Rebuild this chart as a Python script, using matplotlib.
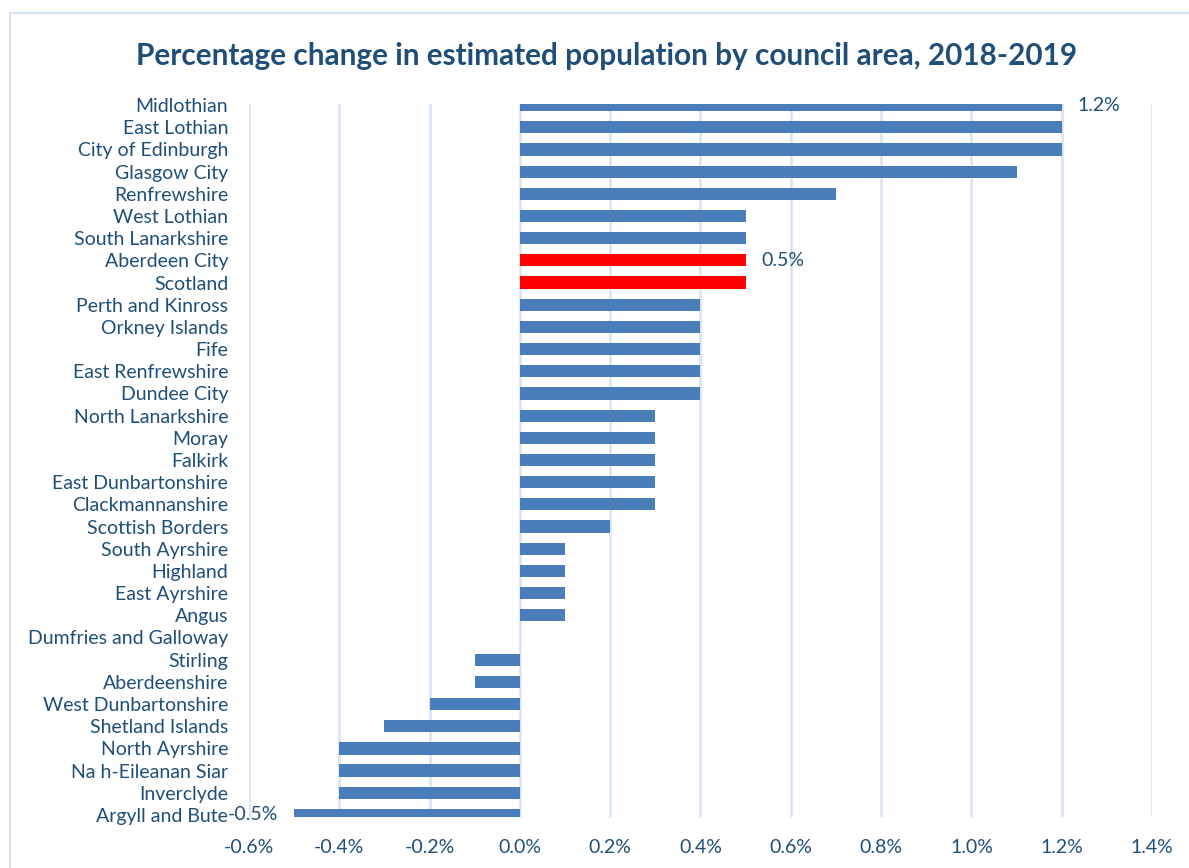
import matplotlib.pyplot as plt
from matplotlib.patches import Rectangle

areas = ["Midlothian", "East Lothian", "City of Edinburgh", "Glasgow City", "Renfrewshire",
         "West Lothian", "South Lanarkshire", "Aberdeen City", "Scotland", "Perth and Kinross",
         "Orkney Islands", "Fife", "East Renfrewshire", "Dundee City", "North Lanarkshire",
         "Moray", "Falkirk", "East Dunbartonshire", "Clackmannanshire", "Scottish Borders",
         "South Ayrshire", "Highland", "East Ayrshire", "Angus", "Dumfries and Galloway",
         "Stirling", "Aberdeenshire", "West Dunbartonshire", "Shetland Islands", "North Ayrshire",
         "Na h-Eileanan Siar", "Inverclyde", "Argyll and Bute"]
change = [1.2, 1.2, 1.2, 1.1, 0.7,
          0.5, 0.5, 0.5, 0.5, 0.4,
          0.4, 0.4, 0.4, 0.4, 0.3,
          0.3, 0.3, 0.3, 0.3, 0.2,
          0.1, 0.1, 0.1, 0.1, 0.0,
          -0.1, -0.1, -0.2, -0.3, -0.4,
          -0.4, -0.4, -0.5]
highlight = ["Aberdeen City", "Scotland"]
labelled = {"Midlothian": "1.2%", "Aberdeen City": "0.5%", "Argyll and Bute": "-0.5%"}
xticks = [-0.6, -0.4, -0.2, 0.0, 0.2, 0.4, 0.6, 0.8, 1.0, 1.2, 1.4]

navy = "#1F4E79"
blue = "#4A7EBB"
grid = "#D6E3F4"

plt.rcParams['font.family'] = ['Lato', 'DejaVu Sans']

fig = plt.figure(figsize=(11.89, 8.68), dpi=100)
ax = fig.add_axes([0.2094, 0.0588, 0.7595, 0.8214])

# outer frame of the chart (cut at right/bottom)
fig.patches.append(Rectangle((10 / 1189, -0.1), 1.2, 1 - 13 / 868 + 0.1,
                             transform=fig.transFigure, fill=False,
                             edgecolor=grid, linewidth=1.5))
fig.text(0.004, 1.003, "g", fontsize=20, color="black", va="bottom", ha="left")

ypos = list(range(len(areas)))
colors = ["#FF0000" if a in highlight else blue for a in areas]
ax.barh(ypos, change, height=0.55, color=colors, zorder=3)

for i, (a, v) in enumerate(zip(areas, change)):
    if a in labelled:
        if v >= 0:
            ax.text(v + 0.035, i, labelled[a], va="center", ha="left",
                    fontsize=14, color=navy, zorder=4)
        else:
            ax.text(v - 0.035, i, labelled[a], va="center", ha="right",
                    fontsize=14, color=navy, zorder=4)

ax.set_xlim(-0.6, 1.4)
ax.set_ylim(32.09, -0.05)
ax.set_xticks(xticks)
ax.set_xticklabels([f"{t:.1f}%" for t in xticks])
ax.set_yticks(ypos)
ax.set_yticklabels(areas)
ax.tick_params(axis="both", length=0, labelsize=14, colors=navy)
ax.tick_params(axis="y", pad=15)
ax.tick_params(axis="x", pad=16)
ax.grid(axis="x", color=grid, linewidth=1.8, zorder=0)
ax.set_axisbelow(True)
for s in ax.spines.values():
    s.set_visible(False)

fig.text(0.51, 0.936, "Percentage change in estimated population by council area, 2018-2019",
         ha="center", va="center", fontsize=21.4, fontweight="bold", color=navy)

fig.savefig("out.png", dpi=100)
